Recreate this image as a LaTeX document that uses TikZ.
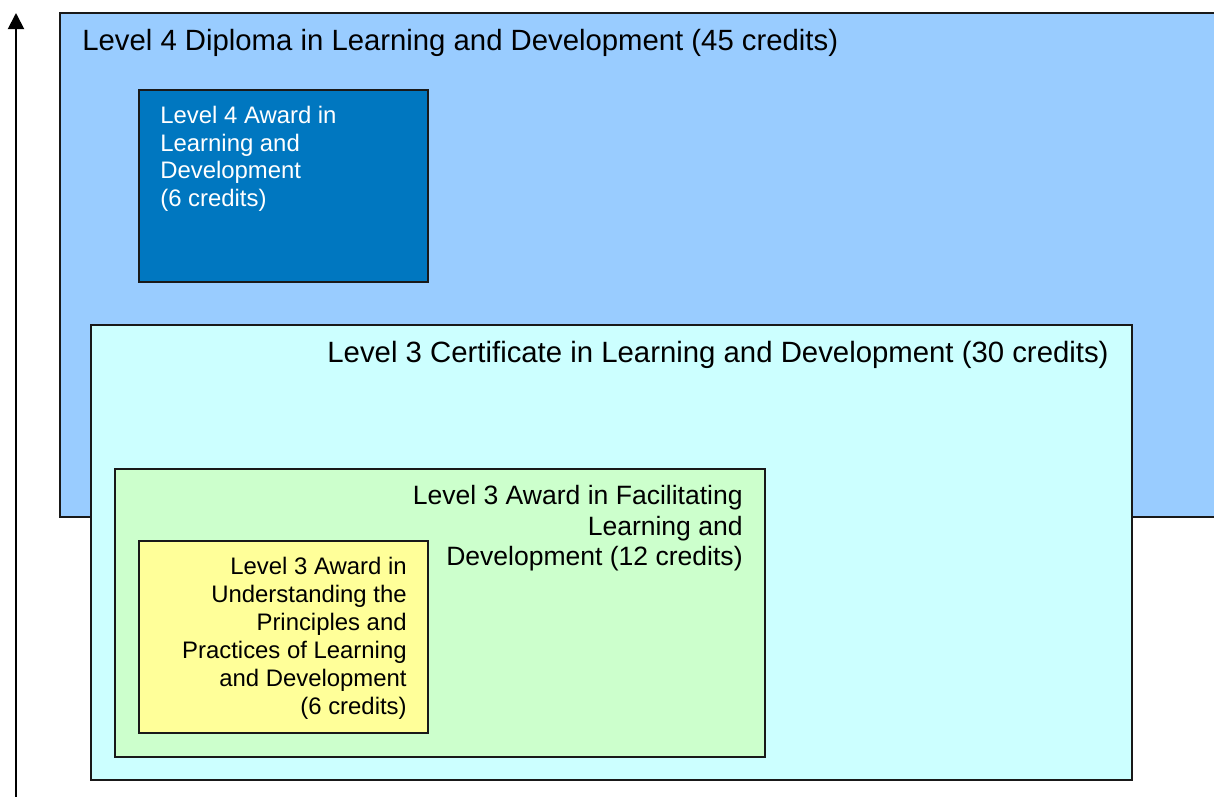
\documentclass[tikz,border=0pt]{standalone}
\usepackage{fontspec}
\setmainfont{Liberation Sans}
\usetikzlibrary{arrows.meta}
\definecolor{dipblue}{HTML}{99CCFF}
\definecolor{awdblue}{HTML}{0077C0}
\definecolor{certcyan}{HTML}{CCFFFF}
\definecolor{facgreen}{HTML}{CCFFCC}
\definecolor{undyellow}{HTML}{FFFF99}
\begin{document}
\begin{tikzpicture}[x=0.02cm,y=-0.02cm]
			\tikzstyle{every node}+=[inner sep=0pt]
			\tikzstyle{box}=[draw=black!90,line width=1.1pt]
			\useasboundingbox (0,0) rectangle (1214,796);
			% level axis
			\coordinate (axisbot) at (16,800);
			\coordinate (axistop) at (16,13);
			\draw [line width=1.1pt,-{Triangle[width=0.32cm,length=0.32cm]}] (axisbot) -- (axistop);
			% level 4 diploma
			\draw [box,fill=dipblue] (60,13) rectangle (1240,517);
			\node (diploma) [anchor=base west,font=\fontsize{16.68}{19}\selectfont] at (82,50.7) {Level 4 Diploma in Learning and Development (45 credits)};
			\draw [box,fill=awdblue] (139,90) rectangle (428,282);
			\node (awardfour) [anchor=north west,align=left,text=white,font=\fontsize{13.6}{15.9}\selectfont] at (160,105.4) {Level 4 Award in\\Learning and\\Development\\(6 credits)};
			% level 3 certificate
			\draw [box,fill=certcyan] (91,325) rectangle (1132,780);
			\node (certificate) [anchor=base east,font=\fontsize{16.7}{19}\selectfont] at (1109,362.3) {Level 3 Certificate in Learning and Development (30 credits)};
			\draw [box,fill=facgreen] (115,469) rectangle (765,757);
			\node (facilitating) [anchor=north east,align=right,font=\fontsize{15.1}{17.3}\selectfont] at (743,485.2) {Level 3 Award in Facilitating\\Learning and\\Development (12 credits)};
			\draw [box,fill=undyellow] (139,541) rectangle (428,733);
			\node (understanding) [anchor=north east,align=right,font=\fontsize{13.6}{15.9}\selectfont] at (407,556.7) {Level 3 Award in\\Understanding the\\Principles and\\Practices of Learning\\and Development\\(6 credits)};
		\end{tikzpicture}
\end{document}
